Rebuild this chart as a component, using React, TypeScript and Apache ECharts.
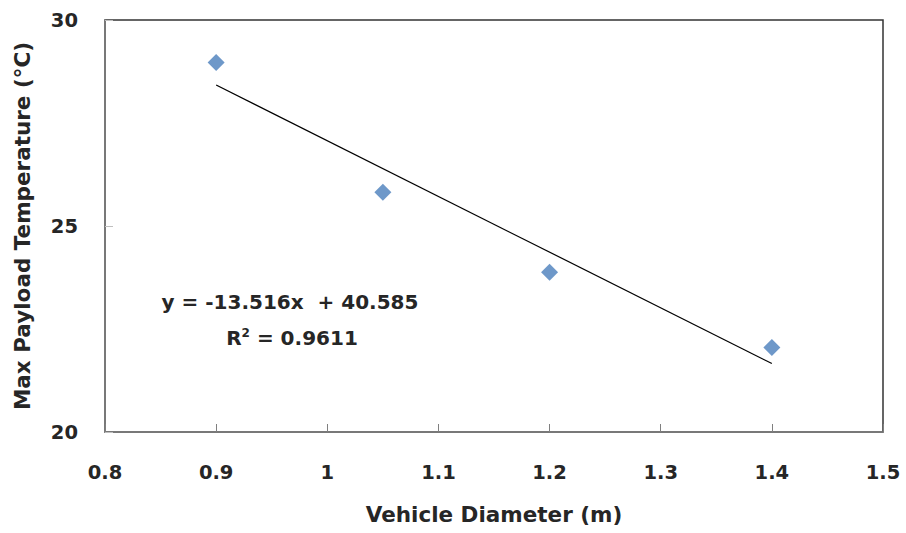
import React, { useEffect, useRef } from "react";
import * as echarts from "echarts";

const xValues = [0.9, 1.05, 1.2, 1.4];
const yValues = [28.97, 25.82, 23.88, 22.05];
const slope = -13.516;
const intercept = 40.585;
const rSquared = "0.9611";
const xTicks = [0.8, 0.9, 1, 1.1, 1.2, 1.3, 1.4, 1.5];
const yTicks = [20, 25, 30];

const FONT = "DejaVu Sans";

export default function App() {
  const ref = useRef<HTMLDivElement>(null);
  useEffect(() => {
    document.body.style.margin = "0";
    const chart = echarts.init(ref.current!, null, { renderer: "svg" });
    const xMin = xValues[0];
    const xMax = xValues[xValues.length - 1];
    chart.setOption({
      animation: false,
      backgroundColor: "#ffffff",
      grid: {
        left: 105,
        right: 23,
        top: 20,
        bottom: 101,
        show: true,
        borderColor: "#333333",
        borderWidth: 1.5,
      },
      xAxis: {
        type: "value",
        min: xTicks[0],
        max: xTicks[xTicks.length - 1],
        interval: 0.1,
        name: "Vehicle Diameter (m)",
        nameLocation: "middle",
        nameGap: 71,
        nameTextStyle: { fontFamily: FONT, fontWeight: "bold", fontSize: 21.5, color: "#262626" },
        axisLine: { lineStyle: { color: "#7f7f7f", width: 1.5 } },
        axisTick: { inside: true, length: 8, lineStyle: { color: "#7f7f7f" } },
        splitLine: { show: false },
        axisLabel: {
          margin: 30,
          fontFamily: FONT,
          fontWeight: "bold",
          fontSize: 19.5,
          color: "#262626",
          formatter: (v: number) => String(Math.round(v * 10) / 10),
        },
      },
      yAxis: {
        type: "value",
        min: yTicks[0],
        max: yTicks[yTicks.length - 1],
        interval: 5,
        name: "Max Payload Temperature (°C)",
        nameLocation: "middle",
        nameGap: 72,
        nameTextStyle: { fontFamily: FONT, fontWeight: "bold", fontSize: 21.5, color: "#262626" },
        axisLine: { show: true, lineStyle: { color: "#7f7f7f", width: 1.5 } },
        axisTick: { show: true, inside: true, length: 8, lineStyle: { color: "#bfbfbf" } },
        splitLine: { show: false },
        axisLabel: {
          margin: 27,
          fontFamily: FONT,
          fontWeight: "bold",
          fontSize: 19.5,
          color: "#262626",
        },
      },
      series: [
        {
          type: "line",
          data: [
            [xMin, slope * xMin + intercept],
            [xMax, slope * xMax + intercept],
          ],
          symbol: "none",
          lineStyle: { color: "#000000", width: 1.2 },
          z: 2,
        },
        {
          type: "scatter",
          data: xValues.map((x, i) => [x, yValues[i]]),
          symbol: "diamond",
          symbolSize: 17,
          itemStyle: { color: "#4a7ebb" },
          z: 3,
        },
      ],
      graphic: [
        {
          type: "text",
          x: 290,
          y: 302,
          style: {
            text: "y = -13.516x  + 40.585",
            fontFamily: FONT,
            fontWeight: "bold",
            fontSize: 20,
            fill: "#262626",
            align: "center",
            verticalAlign: "middle",
          },
        },
        {
          type: "text",
          x: 292,
          y: 338,
          style: {
            text: "R{s|2} = " + rSquared,
            rich: { s: { fontSize: 12, fontFamily: FONT, fontWeight: "bold", verticalAlign: "top", padding: [0, 0, 10, 0] } },
            fontFamily: FONT,
            fontWeight: "bold",
            fontSize: 20,
            fill: "#262626",
            align: "center",
            verticalAlign: "middle",
          },
        },
      ],
    });
    return () => chart.dispose();
  }, []);
  return <div ref={ref} style={{ width: 906, height: 533 }} />;
}
